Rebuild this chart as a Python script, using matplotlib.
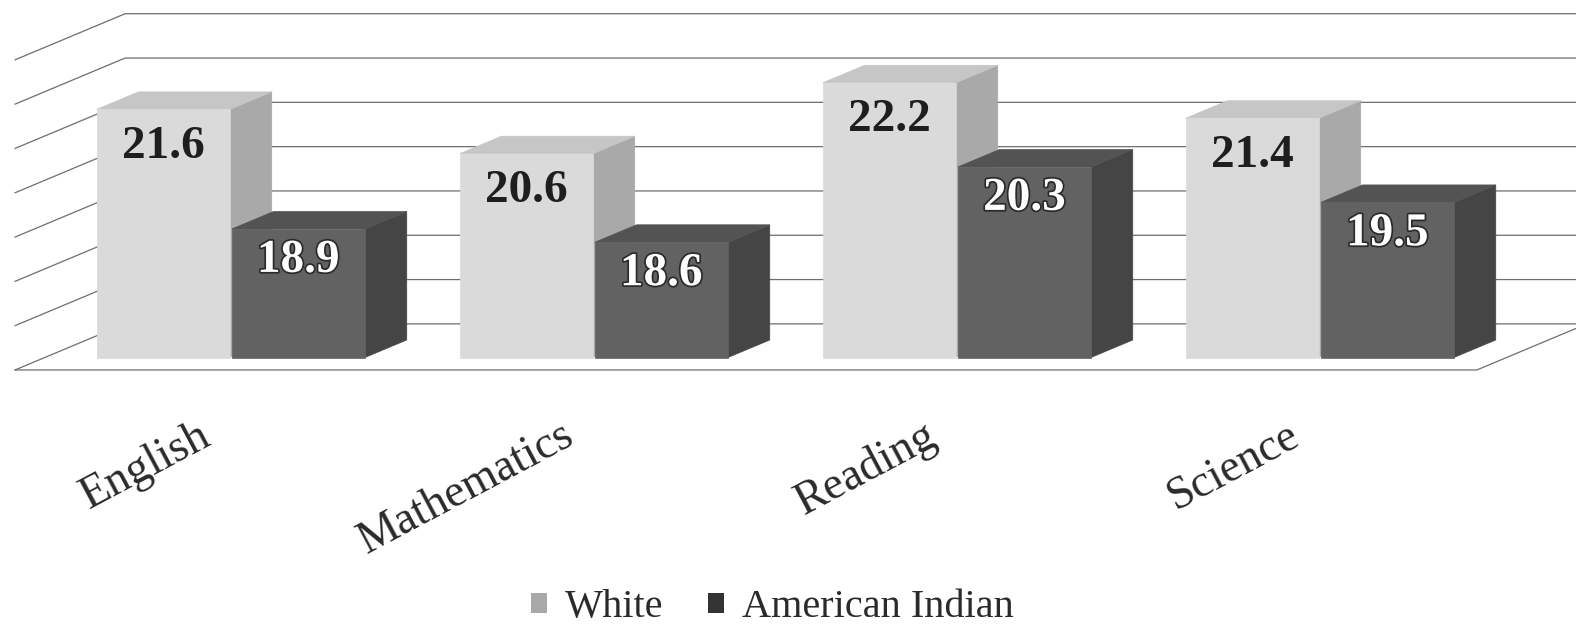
import numpy as np
import matplotlib.pyplot as plt
import matplotlib.patheffects as pe
from matplotlib.patches import Polygon, Patch

categories = ["English", "Mathematics", "Reading", "Science"]
series_names = ["White", "American Indian"]
white_vals = [21.6, 20.6, 22.2, 21.4]
indian_vals = [18.9, 18.6, 20.3, 19.5]
grid_vals = [16, 17, 18, 19, 20, 21, 22, 23]

# pseudo-3d projection: one depth unit shifts right and up
DX = 0.303
DY = 1.04
BASE = 16.0


def proj(x, v, d):
    return (x + d * DX, v + d * DY)


def box(ax, x0, x1, v, d0, d1, colors):
    front, top, side = colors
    pts_front = [proj(x0, BASE, d0), proj(x1, BASE, d0), proj(x1, v, d0), proj(x0, v, d0)]
    pts_top = [proj(x0, v, d0), proj(x1, v, d0), proj(x1, v, d1), proj(x0, v, d1)]
    pts_side = [proj(x1, BASE, d0), proj(x1, BASE, d1), proj(x1, v, d1), proj(x1, v, d0)]
    for pts, c in [(pts_side, side), (pts_top, top), (pts_front, front)]:
        ax.add_patch(Polygon(pts, closed=True, facecolor=c, edgecolor=c, lw=0.5, zorder=3))


def main():
    plt.rcParams['font.family'] = ['Liberation Serif', 'DejaVu Serif']

    fig = plt.figure(figsize=(15.76, 6.34), dpi=100)
    ax = fig.add_axes([0, 0, 1, 1])
    ax.set_xlim(-0.1846, 4.157)
    ax.set_ylim(10.04, 24.35)
    ax.axis('off')

    x_left, x_right = -0.143, 3.884
    grid_kw = dict(color='#6e6e6e', lw=0.9, zorder=1)

    # ---------- WALLS / FLOOR ----------
    for g in grid_vals:
        a = proj(x_left, g, 0)
        b = proj(x_left, g, 1)
        c = proj(x_right + 0.5, g, 1)
        ax.plot([a[0], b[0], c[0]], [a[1], b[1], c[1]], **grid_kw)

    f0 = proj(x_left, BASE, 0)
    f1 = proj(x_right, BASE, 0)
    f2 = proj(x_right, BASE, 1)
    ax.plot([f0[0], f1[0], f2[0]], [f0[1], f1[1], f2[1]], **grid_kw)

    # ---------- BARS ----------
    width = 0.367
    gap = 0.005
    d0, d1 = 0.27, 0.65
    white_cols = ('#dadada', '#c6c6c6', '#a9a9a9')
    dark_cols = ('#626262', '#535353', '#454545')

    for i in range(len(categories)):
        xw = i
        xd = i + width + gap
        box(ax, xw, xw + width, white_vals[i], d0, d1, white_cols)
        box(ax, xd, xd + width, indian_vals[i], d0, d1, dark_cols)

        tx, ty = proj(xw + width / 2, white_vals[i] - 0.85, d0)
        ax.text(tx, ty, f"{white_vals[i]:.1f}", ha='center', va='center',
                fontsize=34, fontweight='bold', color='#1e1e1e', zorder=5)
        tx, ty = proj(xd + width / 2, indian_vals[i] - 0.72, d0)
        ax.text(tx, ty, f"{indian_vals[i]:.1f}", ha='center', va='center',
                fontsize=34, fontweight='bold', color='white', zorder=5,
                path_effects=[pe.withStroke(linewidth=2.5, foreground='#2a2a2a')])

        # category label
        ax.text(i + 0.36, 15.0, categories[i], ha='right', va='top',
                rotation=28, rotation_mode='anchor', fontsize=33, color='#2a2a2a')

    # ---------- LEGEND ----------
    handles = [Patch(facecolor='#a8a8a8', edgecolor='none'),
               Patch(facecolor='#333333', edgecolor='none')]
    fig.legend(handles, series_names, loc='lower center', ncol=2, frameon=False,
               bbox_to_anchor=(0.49, -0.045), fontsize=29, handlelength=0.4,
               handleheight=0.4, handletextpad=0.45, columnspacing=1.1,
               labelcolor='#2a2a2a')

    plt.savefig("out.png", dpi=100)


if __name__ == "__main__":
    main()
